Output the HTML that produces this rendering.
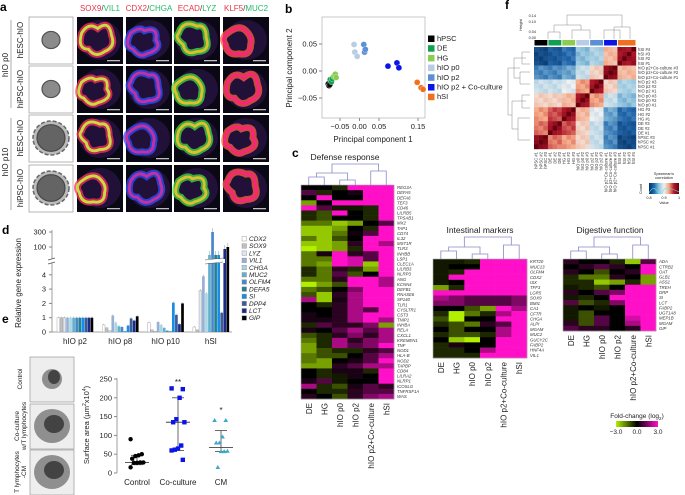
<!DOCTYPE html>
<html><head><meta charset="utf-8"><style>
html,body{margin:0;padding:0;background:#fff;}
svg{display:block;font-family:"Liberation Sans",sans-serif;}
</style></head><body>
<svg id="fig" width="685" height="495" viewBox="0 0 685 495" xmlns="http://www.w3.org/2000/svg"></svg>
<script>
// ---------- DATA ----------
// panel a
const aMarkers = ["SOX9/VIL1","CDX2/CHGA","ECAD/LYZ","KLF5/MUC2"];
// panel b (PCA)
const pcaGroups = ["hPSC","DE","HG","hIO p0","hIO p2","hIO p2 + Co-culture","hSI"];
const pcaX = [[-0.08,-0.078,-0.076],[-0.075,-0.072,-0.07],[-0.066,-0.062,-0.06],[-0.014,-0.012,-0.006],[0.011,0.013,0.015],[0.073,0.096,0.101],[0.148,0.158,0.163]];
const pcaY = [[-0.024,-0.027,-0.025],[-0.016,-0.02,-0.014],[-0.01,-0.006,-0.012],[0.049,0.035,0.027],[0.049,0.035,0.04],[0.009,0.015,0.006],[-0.021,-0.031,-0.034]];
const pcaXTicks = [-0.05,0.00,0.05,0.15];
const pcaYTicks = [0.05,0.00,-0.05];
// panel c
const cCols = ["DE","HG","hIO p0","hIO p2","hIO p2+Co-culture","hSI"];
const defGenes = ["REG3A","DEFA5","DEFA6","TEF3","CD46","LILRB5","TPSAB1","MX2","TAP1","CD74","IL32","MST1R","TLR3","INHBB","LSP1","CLEC1A","LILRB3","NLRP3","ANG","KCNN4","DEFB1","RNASE6","SP140","TLR1","CYSLTR1","CST3","TNIP1","INHBA","RELA","CXCL1","KREMEN1","TNF","NOD1","HLA-B","NOD2","TAPBP","CD84","LILRA2","NLRP1","ICOSLG","TNFRSF1A","WAS"];
const defVals = [[0,0,-0.5,3,3,3],[1,-0.5,0,0.3,3,3],[0,3,0,0,3,3],[-2,0,3,3,3,3],[3,1,-0.3,-0.3,-0.5,3],[-0.5,-1,3,0,-0.5,3],[-0.5,-1,0,0,-0.5,3],[-1.5,-1.5,-2.5,-2,0,1],[-2.5,-2.5,-2,0,-0.5,3],[-2.5,-2.5,-1.5,0.2,1,3],[-1.5,-2.5,-1,0,3,3],[-2.5,-2.5,-2,0.5,3,2],[-3,-2.5,-2,-0.5,3,3],[-1.5,0.3,3,0.5,1,3],[-1.5,-1.5,3,2.5,1,3],[-1.5,-2,3,2.5,-2.5,3],[-0.5,-1.5,0.5,-0.5,-2,3],[-0.5,-1.5,1,-1,0,3],[-1.5,-1.5,0.5,3,3,2],[-3,-2,-1,3,3,2],[-1.5,-1,0,1.5,3,3],[-1,-2.5,0.5,2,3,3],[2,-2.5,0.3,2,3,3],[0,-0.5,0.5,2,3,3],[0,0,0.5,2,1,3],[0.3,0,0.5,2,3,3],[0.3,0.3,0.5,2,3,2],[-0.5,1,0.5,0.5,1.5,-2],[0.3,0,1,2,1,2],[-1,-0.5,0.5,1.5,0.5,2],[-1.5,-0.5,2,0.5,1.5,2],[-2,-0.5,2,1,1.5,3],[-2,-1,-0.5,-0.5,0.5,1],[-1.5,-1,-1,0,1,2],[-1.5,-2,0,0.3,1,3],[-2,-2,0.5,1,2,2],[0,-0.5,0.3,0.3,-0.5,3],[0,-0.5,-0.3,0.3,0,3],[0.3,1,-0.3,0,0,3],[2,-0.5,-1,0.3,1,0.5],[0,-0.5,-0.5,0.5,1,1],[0.5,0,-1,0.5,1.5,2]];
const intGenes = ["KRT20","MUC13","OLFM4","CDX2","ISX","TFF3","LGR5","SOX9","BMI1","CA1","CFTR","CHGA","ALPI","MGAM","MUC2","GUCY2C","FABP2","HNF4A","VIL1"];
const intVals = [[-0.3,-0.3,-0.5,3,3,3],[-0.3,0,0,3,3,3],[-0.3,-0.5,3,3,3,3],[-0.3,3,3,3,3,3],[-0.3,0,3,3,3,3],[-2,-0.5,3,3,3,3],[3,3,3,3,3,3],[2,1.5,1,1,1,1.5],[1.5,1.5,1,1,1,1.5],[0,0,-1,-2,3,2],[-0.5,-3,-1.5,-0.5,2,3],[-1,-3,0,0,3,3],[-0.5,-1,-1.5,0.5,1,3],[0,-1,0,0,2,3],[-0.5,-1,-1,-0.5,2,3],[0,-2.5,-3,0,3,3],[-0.5,0.3,0,0,3,3],[-0.5,-0.5,0,2,3,3],[-0.5,-0.5,-0.5,3,3,3]];
const digGenes = ["ADA","CTRB2","OAT","GLB1","ASS1","TREH","DRP","SI","LCT","FABP2","UGT1A8","MEP1B","MGAM","GIP"];
const digVals = [[0.5,0,0,-0.5,-2.5,1],[0,0.5,1,0.5,0,3],[0.5,0,-1,0,0.5,3],[-0.5,-1.5,-1.5,0.5,0,-2],[-0.5,-0.5,-2.5,-2,-0.5,-2],[-0.3,-0.5,-1,0,3,3],[0.5,0,1,1.5,3,3],[-0.3,-0.5,0,3,3,3],[1,-1,-0.5,1.5,3,3],[-0.3,0,-0.3,0,3,3],[-0.3,-1,0,0,3,3],[-0.3,-1,1,0,2.5,3],[0.5,-1,1,0,2,3],[1,0.5,0.5,0,0.5,3]];
// panel d
const dGroups = ["hIO p2","hIO p8","hIO p10","hSI"];
const dGenes = ["CDX2","SOX9","LYZ","VIL1","CHGA","MUC2","OLFM4","DEFA5","SI","DPP4","LCT","GIP"];
const dP2 = [1,1,1,1,1,1,1,1,1,1,1,1];
const dP8 = [0.5,0.3,0.1,1.15,0.65,0.4,0.35,0.05,0.45,0.95,0.8,1.1];
const dP10 = [0.65,0.15,0.05,0.7,0.5,0.3,0.1,0.05,2.05,1.2,0.55,2.0];
const dSI = [0.35,0.15,2.9,3.9,2.7,60,300,60,60,1.35,90,100];
const dYTicksLow = [0,1,2,3,4];
const dYTicksHigh = [100,300];
// panel e
const eCats = ["Control","Co-culture","CM"];
const eControl = [90,50,47,45,38,28,28,27,27,15];
const eCoculture = [225,223,200,143,135,135,73,65,62,60,35];
const eCM = [140,140,96,80,80,58,57,57,15];
const eMedian = [28,135,68];
const eUpper = [47,200,113];
const eLower = [22,60,57];
const eYTicks = [0,50,100,150,200,250];
// panel f
const fGroups = ["hPSC","DE","HG","hIO p0","hIO p2","hIO p2+Co-culture","hSI"];
const fGroupN = [3,3,3,3,3,3,4];
const fCorr = [
 [0.99,0.95,0.94,0.92,0.89,0.85,0.82],
 [0.95,0.98,0.96,0.92,0.89,0.85,0.83],
 [0.94,0.96,0.98,0.93,0.90,0.86,0.84],
 [0.92,0.92,0.93,0.98,0.94,0.89,0.87],
 [0.89,0.89,0.90,0.94,0.98,0.92,0.88],
 [0.85,0.85,0.86,0.89,0.92,0.99,0.93],
 [0.82,0.83,0.84,0.87,0.88,0.93,0.98]];

// ---------- HELPERS ----------
const NS="http://www.w3.org/2000/svg";
const svg=document.getElementById('fig');
function mk(tag,parent,attrs){const e=document.createElementNS(NS,tag);for(const k in attrs)e.setAttribute(k,attrs[k]);(parent||svg).appendChild(e);return e;}
function txt(parent,x,y,s,size,attrs){const t=mk('text',parent,Object.assign({x:x,y:y,'font-size':size,fill:'#222'},attrs||{}));t.textContent=s;return t;}
function grp(parent){return mk('g',parent,{});}
function lerp(a,b,t){return Math.round(a+(b-a)*t);}
function fcColor(v){v=Math.max(-3,Math.min(3,v));if(v<0){const t=-v/3;return `rgb(${lerp(0,178,t)},${lerp(0,240,t)},${lerp(0,0,t)})`;}const t=v/3;return `rgb(${lerp(0,255,t)},${lerp(0,16,t)},${lerp(0,200,t)})`;}
function corrColor(v){const t=Math.max(0,Math.min(1,(v-0.8)/0.2));
 const stops=[[5,48,97],[33,102,172],[146,197,222],[240,240,240],[244,165,130],[178,24,43],[103,0,13]];
 const p=t*(stops.length-1),i=Math.min(stops.length-2,Math.floor(p)),f=p-i;
 return `rgb(${lerp(stops[i][0],stops[i+1][0],f)},${lerp(stops[i][1],stops[i+1][1],f)},${lerp(stops[i][2],stops[i+1][2],f)})`;}
function label(s,x,y){const t=txt(svg,x,y,s,12,{'font-weight':'bold',fill:'#000'});}
const defs=mk('defs');

// ---------- PANEL A ----------
label('a',0,11);
const gA=grp();
const aColsX=[77,126,174,223];
const aRowsY=[17,66,115,165];
aMarkers.forEach((m,i)=>{const parts=m.split('/');const t=mk('text',gA,{x:aColsX[i]+23,y:11,'font-size':8,'text-anchor':'middle'});
 const s1=mk('tspan',t,{fill:'#ee3344'});s1.textContent=parts[0];const s2=mk('tspan',t,{fill:'#444'});s2.textContent='/';const s3=mk('tspan',t,{fill:'#22bb66'});s3.textContent=parts[1];
 });
const loopCols=[['#c8f040','#ff3060'],['#d030a0','#3050ff'],['#f0c030','#40e040'],['#ff2080','#ff6040']];
const shapes=[
 'q6,-10 14,-4 q10,-8 12,6 q4,10 -6,14 q-8,6 -14,-2 q-10,0 -6,-14z',
 'q8,-6 12,-2 q12,-4 10,8 q6,8 -8,12 q-6,4 -12,-4 q-8,-2 -2,-14z',
 'q4,-12 16,-6 q8,-2 8,10 q4,12 -8,12 q-10,4 -12,-6 q-8,-6 -4,-10z',
 'q10,-8 16,-2 q6,6 4,12 q0,10 -10,8 q-10,2 -12,-8 q-4,-6 2,-10z'];
aRowsY.forEach((y,r)=>{
 const bf=mk('rect',gA,{x:29,y:y,width:44,height:47,fill:'#fff',stroke:'#999','stroke-width':0.7});
 
 const rad=r<2?9:14;
 if(r>=2)mk('ellipse',gA,{cx:51,cy:y+23,rx:rad+4,ry:rad+3,fill:'#bbb',stroke:'#666','stroke-width':1.5,'stroke-dasharray':'4 2'});
 mk('ellipse',gA,{cx:51,cy:y+23,rx:rad,ry:rad*0.95,fill:r<2?'#777':'#555',stroke:'#333','stroke-width':1.2,opacity:0.85});
 aColsX.forEach((x,c)=>{
  const im=mk('rect',gA,{x:x,y:y,width:46,height:47,fill:'#0a0814'});
  
  const cx=x+23,cy=y+23;const lc=loopCols[c];const sh=shapes[(r+c)%4];
  mk('ellipse',gA,{cx:cx,cy:cy,rx:21,ry:20,fill:'#301850',opacity:0.6});
  mk('path',gA,{d:`M${cx-16},${cy-6} ${sh}`,fill:'none',stroke:lc[1],'stroke-width':6,opacity:0.75,transform:`translate(${cx},${cy}) scale(1.15) translate(${-cx},${-cy})`});
  mk('path',gA,{d:`M${cx-16},${cy-6} ${sh}`,fill:'none',stroke:lc[0],'stroke-width':2.5,opacity:0.9,transform:`translate(${cx},${cy}) scale(1.15) translate(${-cx},${-cy})`});
  mk('rect',gA,{x:x+30,y:y+43,width:13,height:1.3,fill:'#bbb'});
 });
});
const sideLabels=[['hESC-hIO',23,40],['hiPSC-hIO',23,89],['hESC-hIO',23,138],['hiPSC-hIO',23,188]];
sideLabels.forEach(s=>{const t=txt(gA,s[1],s[2],s[0],8,{'text-anchor':'middle',transform:`rotate(-90 ${s[1]} ${s[2]})`});});
[['hIO p0',8,65],['hIO p10',8,162]].forEach(s=>{const t=txt(gA,s[1],s[2],s[0],8,{'text-anchor':'middle',transform:`rotate(-90 ${s[1]} ${s[2]})`});});
mk('line',gA,{x1:11,y1:20,x2:11,y2:108,stroke:'#888','stroke-width':0.7});
mk('line',gA,{x1:11,y1:118,x2:11,y2:210,stroke:'#888','stroke-width':0.7});

// ---------- PANEL B ----------
label('b',285,13);
const gB=grp();
const bx=v=>359.5+v*390, by=v=>71-v*540;
const bFrame=mk('rect',gB,{x:322,y:17,width:103,height:101,fill:'#fff',stroke:'#bbb','stroke-width':0.8});

pcaXTicks.forEach(v=>{mk('line',gB,{x1:bx(v),y1:118,x2:bx(v),y2:121,stroke:'#888'});const t=txt(gB,bx(v),129,v.toFixed(2).replace('-','−'),7.5,{'text-anchor':'middle'});});
pcaYTicks.forEach(v=>{mk('line',gB,{x1:319,y1:by(v),x2:322,y2:by(v),stroke:'#888'});const t=txt(gB,317,by(v)+2.5,v.toFixed(2).replace('-','−'),7.5,{'text-anchor':'end'});});
let t0=txt(gB,373,142,'Principal component 1',8,{'text-anchor':'middle'});
t0=txt(gB,292,68,'Principal component 2',8,{'text-anchor':'middle',transform:'rotate(-90 292 68)'});
const pcaColors=['#000','#10a050','#8ccc50','#b8cce6','#5b8fd6','#0a14e6','#f07020'];
pcaGroups.forEach((g,i)=>{
 pcaX[i].forEach((xv,j)=>{const c=mk('circle',gB,{cx:bx(xv),cy:by(pcaY[i][j]),r:3,fill:pcaColors[i],stroke:'#fff','stroke-width':0.3});
  });
 const ly=41+i*9.7;
 const sq=mk('rect',gB,{x:428,y:ly-5.5,width:6.5,height:6.5,fill:pcaColors[i]});
 const lt=txt(gB,437,ly,g,7.5);
});

// ---------- PANEL C ----------
label('c',292,157);
function heatmap(name,title,genes,vals,x0,y0,w,h,tx,ty,dendY){
 const g=grp();
 const tt=txt(g,tx,ty,title,8.5,{'text-anchor':'middle'});
 const cw=w/cCols.length, rh=h/genes.length;
 vals.forEach((row,r)=>row.forEach((v,c)=>{const cell=mk('rect',g,{x:x0+c*cw,y:y0+r*rh,width:cw+0.3,height:rh+0.3,fill:fcColor(v)});
  }));
 mk('rect',g,{x:x0,y:y0,width:w,height:h,fill:'none',stroke:'#aaa','stroke-width':0.6});
 genes.forEach((gn,r)=>{const t=txt(g,x0+w+3,y0+r*rh+rh*0.8,gn,4.3,{'font-style':'italic',fill:'#333'});});
 cCols.forEach((cn,c)=>{const cx=x0+c*cw+cw/2+3,cy=y0+h+4;const t=txt(g,cx,cy,cn,8,{'text-anchor':'end',transform:`rotate(-90 ${cx} ${cy})`});});
 const cc=c=>x0+c*cw+cw/2; const d=mk('path',g,{fill:'none',stroke:'#8888c8','stroke-width':0.8,
  d:`M${cc(0)},${y0} V${y0-8} H${cc(1)} V${y0} M${cc(2)},${y0} V${y0-5} H${cc(3)} V${y0} M${cc(4)},${y0} V${y0-14} H${cc(5)} V${y0} M${(cc(0)+cc(1))/2},${y0-8} V${y0-12} H${(cc(2)+cc(3))/2} V${y0-5} M${(cc(0)+cc(3))/2},${y0-12} V${dendY} H${(cc(4)+cc(5))/2} V${y0-14}`});
 
}
heatmap('defense-response-heatmap','Defense response',defGenes,defVals,301,185,93,214,345,160,164);
heatmap('intestinal-markers-heatmap','Intestinal markers',intGenes,intVals,433,259,94,99,480,233,237);
heatmap('digestive-function-heatmap','Digestive function',digGenes,digVals,563,259,93,72,610,233,237);
const gFC=grp();
const lg=mk('linearGradient',defs,{id:'fcg',x1:0,x2:1,y1:0,y2:0});
[[0,'#b2f000'],[0.5,'#000'],[1,'#ff10c8']].forEach(s=>mk('stop',lg,{offset:s[0],'stop-color':s[1]}));
txt(gFC,637,418,'Fold-change (log',6.5,{'text-anchor':'middle'}).innerHTML='Fold-change (log<tspan font-size="4.5" dy="2">2</tspan><tspan dy="-2">)</tspan>';
mk('rect',gFC,{x:616,y:421,width:42,height:6,fill:'url(#fcg)'});
[['−3.0',616],['0.0',637],['3.0',658]].forEach(s=>txt(gFC,s[1],434,s[0],6.5,{'text-anchor':'middle'}));

// ---------- PANEL D ----------
label('d',2,234);
const gD=grp();
function dy(v){if(v<=4)return 332-v*14.3; if(v<=100)return 266-(v-4)/96*19; return 247-(v-100)/200*15;}
mk('line',gD,{x1:52,y1:230,x2:52,y2:332,stroke:'#888','stroke-width':0.8});
mk('line',gD,{x1:52,y1:332,x2:232,y2:332,stroke:'#888','stroke-width':0.8});
dYTicksLow.concat(dYTicksHigh).forEach(v=>{mk('line',gD,{x1:49,y1:dy(v),x2:52,y2:dy(v),stroke:'#888'});const t=txt(gD,46,dy(v)+2.5,String(v),7.5,{'text-anchor':'end'});});
mk('rect',gD,{x:48,y:259,width:8,height:4,fill:'#fff'});
mk('path',gD,{d:'M48,260 l7,-2 M48,264 l7,-2',stroke:'#555','stroke-width':0.7});
t0=txt(gD,21,283,'Relative gene expression',8,{'text-anchor':'middle',transform:'rotate(-90 21 283)'});
const dColors=['#fff','#c0c0c0','#dde7f2','#98afd6','#a8d6e2','#62b1cb','#4a88cc','#25808e','#168ee6','#3a5c98','#1a2c86','#000'];
const dAll=[dP2,dP8,dP10,dSI];
dGroups.forEach((gname,gi)=>{
 const gx=57+gi*45.3;
 dAll[gi].forEach((v,i)=>{const b=mk('rect',gD,{x:gx+i*3.05,y:dy(v),width:2.7,height:332-dy(v),fill:dColors[i],stroke:i<3?'#999':'none','stroke-width':0.4});
  
  if(v>0.3)mk('line',gD,{x1:gx+i*3.05+1.35,y1:dy(v)-Math.min(4,v*0.15+1),x2:gx+i*3.05+1.35,y2:dy(v),stroke:'#999','stroke-width':0.5});});
 const t=txt(gD,gx+18,344,gname,8,{'text-anchor':'middle'});
});
mk('rect',gD,{x:205,y:259,width:20,height:4,fill:'#fff'});
mk('path',gD,{d:'M205,260 l18,-2 M205,264 l18,-2',stroke:'#555','stroke-width':0.5});
dGenes.forEach((gn,i)=>{const ly=241+i*7.2;
 const s=mk('rect',gD,{x:242,y:ly-4.5,width:4.5,height:4.5,fill:dColors[i],stroke:'#888','stroke-width':0.4});
 const t=txt(gD,249,ly,gn,6.5,{'font-style':'italic'});});

// ---------- PANEL E ----------
label('e',2,323);
const gE=grp();
[[357,'Control'],[404,'Co-culture\nw/T lymphocytes'],[450,'T lymphocytes\n-CM']].forEach((p,i)=>{
 const r=mk('rect',gE,{x:30,y:p[0],width:44,height:45,fill:'#eee',stroke:'#999','stroke-width':0.7});
 mk('ellipse',gE,{cx:52,cy:p[0]+22,rx:i==0?10:18,ry:i==0?10:17,fill:'#666',opacity:0.7});
 mk('ellipse',gE,{cx:54,cy:p[0]+20,rx:i==0?6:10,ry:i==0?7:9,fill:'#222',opacity:0.7});
 const lines=p[1].split('\n');lines.forEach((ln,k)=>{const x=19+k*7+(lines.length==1?3:0),y=p[0]+22;const t=txt(gE,x,y,ln,6.5,{'text-anchor':'middle',transform:`rotate(-90 ${x} ${y})`});});
});
const ey=v=>473-v*0.376, ex=[137,178,221];
mk('line',gE,{x1:117,y1:378,x2:117,y2:473,stroke:'#888','stroke-width':0.8});
eYTicks.forEach(v=>{mk('line',gE,{x1:114,y1:ey(v),x2:117,y2:ey(v),stroke:'#888'});const t=txt(gE,112,ey(v)+2.5,String(v),7.5,{'text-anchor':'end'});});
t0=txt(gE,89,425,'',7.5,{'text-anchor':'middle',transform:'rotate(-90 89 425)'});t0.innerHTML='Surface area (µm<tspan font-size="5" dy="-3">2</tspan><tspan dy="3">x10</tspan><tspan font-size="5" dy="-3">4</tspan><tspan dy="3">)</tspan>';

const eData=[eControl,eCoculture,eCM];const eCol=['#000','#0a14e6','#3aa8c8'];
eCats.forEach((c,ci)=>{
 const cx=ex[ci];
 mk('line',gE,{x1:cx,y1:ey(eUpper[ci]),x2:cx,y2:ey(eLower[ci]),stroke:'#444','stroke-width':0.8});
 [eUpper[ci],eLower[ci]].forEach(v=>mk('line',gE,{x1:cx-6,y1:ey(v),x2:cx+6,y2:ey(v),stroke:'#444','stroke-width':0.8}));
 mk('line',gE,{x1:cx-12,y1:ey(eMedian[ci]),x2:cx+12,y2:ey(eMedian[ci]),stroke:'#444','stroke-width':0.9});
 eData[ci].forEach((v,i)=>{const jx=cx+((i*7)%9-4)*1.6;let m;
  if(ci==0)m=mk('circle',gE,{cx:jx,cy:ey(v),r:2.2,fill:eCol[0]});
  else if(ci==1)m=mk('rect',gE,{x:jx-2.2,y:ey(v)-2.2,width:4.4,height:4.4,fill:eCol[1]});
  else m=mk('path',gE,{d:`M${jx},${ey(v)-2.4} l2.3,4 h-4.6z`,fill:eCol[2]});
  });
 const t=txt(gE,cx,485,c,8,{'text-anchor':'middle'});
});
txt(gE,178,385,'**',8,{'text-anchor':'middle'});txt(gE,221,413,'*',8,{'text-anchor':'middle'});

// ---------- PANEL F ----------
label('f',505,9);
const gF=grp();
const samples=[],sgroup=[];
fGroups.forEach((g,gi)=>{for(let k=1;k<=fGroupN[gi];k++){samples.push(g+' #'+k);sgroup.push(gi);}});
const nS=samples.length, fx0=534,fy0=47,fw=102,fh=102, cw=fw/nS, rh=fh/nS;
const rowsOrder=samples.map((s,i)=>i).reverse();
rowsOrder.forEach((si,r)=>{samples.forEach((s2,c)=>{
 let v=si===c?1:fCorr[sgroup[si]][sgroup[c]]-((si+c)%3)*0.005;
 const cell=mk('rect',gF,{x:fx0+c*cw,y:fy0+r*rh,width:cw+0.2,height:rh+0.2,fill:corrColor(v)});
 });
 const t=txt(gF,fx0+fw+2,fy0+r*rh+rh*0.85,samples[si],4.2,{fill:'#333'});});
samples.forEach((s,c)=>{const x=fx0+c*cw+cw*0.8,y=fy0+fh+3;const t=txt(gF,x,y,s,4.2,{fill:'#333','text-anchor':'end',transform:`rotate(-90 ${x} ${y})`});});
const fColors=['#000','#10a050','#8ccc50','#b8cce6','#5b8fd6','#0a14e6','#f07020'];
let acc=0;fGroups.forEach((g,gi)=>{const r=mk('rect',gF,{x:fx0+acc*cw+0.5,y:40,width:fGroupN[gi]*cw-1,height:5.5,fill:fColors[gi]});acc+=fGroupN[gi];});
const dp=mk('path',gF,{fill:'none',stroke:'#888','stroke-width':0.5,d:'M548,39 V32 H560 V39 M572,39 V30 H590 V39 M554,32 V25 H581 V30 M604,39 V30 H620 V39 M614,39 V27 H630 V39 M567,25 V15 H622 V27 M530,52 H522 V64 H530 M530,72 H520 V84 H530 M526,58 H514 V78 H520 M530,95 H522 V108 H530 M530,118 H518 V140 H530 M526,101 H512 V129 H518 M520,68 H508 V115 H512'});

txt(gF,522,25,'Height',4,{'text-anchor':'middle',transform:'rotate(-90 522 25)'});
[['0.14',17],['0.10',23],['0.04',33],['0.00',39]].forEach(s=>txt(gF,536,s[1],s[0],3.8,{'text-anchor':'end'}));
const gK=grp(gF);
const lg2=mk('linearGradient',defs,{id:'cg',x1:0,x2:1,y1:0,y2:0});
for(let i=0;i<=6;i++)mk('stop',lg2,{offset:i/6,'stop-color':corrColor(0.8+i/6*0.2)});
txt(gK,664,175,"Spearman's",3.8,{'text-anchor':'middle'});txt(gK,664,179,'correlation',3.8,{'text-anchor':'middle'});
mk('rect',gK,{x:649,y:183,width:30,height:11,fill:'url(#cg)'});
mk('path',gK,{d:'M649,193 q4,-8 8,-2 t6,0 t16,1',fill:'none',stroke:'#5ee','stroke-width':0.6});
[['0.8',649],['0.9',664],['1',679]].forEach(s=>txt(gK,s[1],199,s[0],3.8,{'text-anchor':'middle'}));
txt(gK,664,204,'Value',3.8,{'text-anchor':'middle'});
txt(gK,642,189,'Count',3.8,{'text-anchor':'middle',transform:'rotate(-90 642 189)'});
</script>
</body></html>
